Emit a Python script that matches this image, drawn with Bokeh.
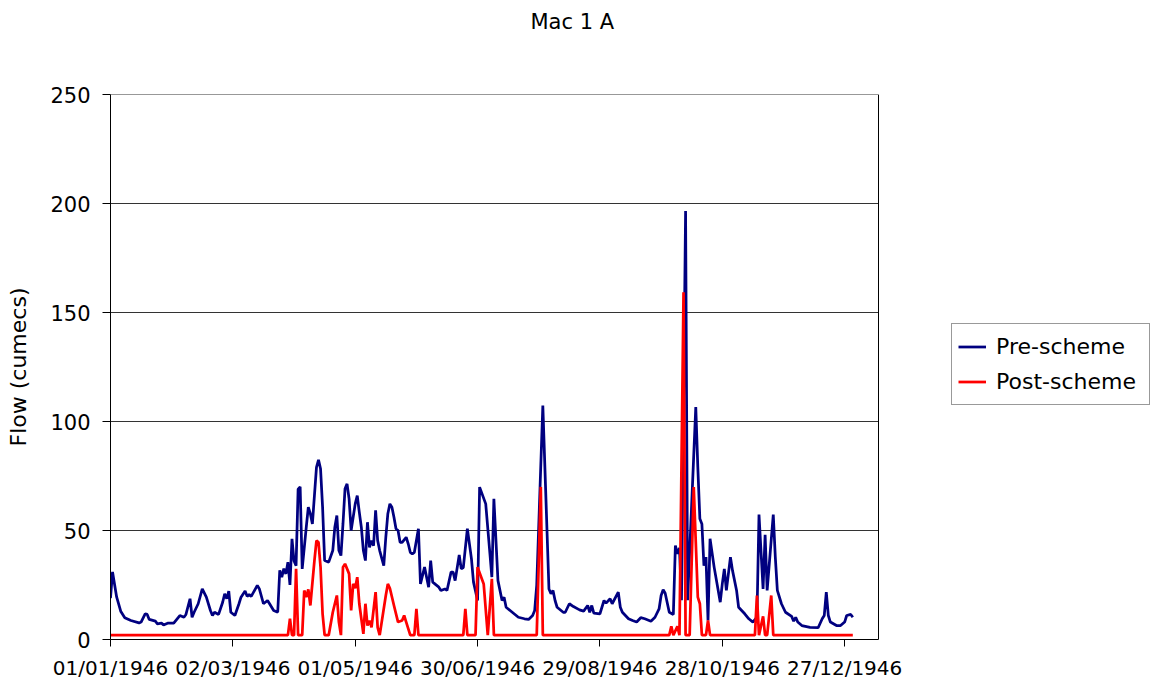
from bokeh.plotting import figure
from bokeh.models import Range1d, FixedTicker, Legend, LegendItem, Title
from bokeh.embed import file_html
from bokeh.resources import INLINE

# ---- data (day of year 1946, 0 = 01/01/1946) ----
pre_days = [0, 1, 3, 5, 7, 10, 14, 15, 17, 18, 19, 22, 23, 25, 26, 28, 31, 32, 34, 36, 37, 39, 40, 41, 43, 45,
            47, 49, 50, 51, 53, 55, 56, 57, 58, 59, 61, 63, 64, 66, 67, 68, 69, 72, 73, 75, 77, 78, 80, 82, 83,
            84, 85, 86, 87, 88, 89, 90, 91, 92, 93, 94, 96, 97, 98, 99, 101, 102, 103, 104, 105, 107, 109, 110,
            111, 112, 113, 114, 115, 116, 117, 118, 120, 121, 122, 123, 124, 125, 126, 127, 128, 129, 130, 131,
            132, 134, 135, 136, 137, 138, 139, 140, 141, 142, 143, 145, 146, 147, 148, 149, 151, 152, 154, 156,
            157, 158, 161, 162, 164, 165, 167, 168, 169, 171, 172, 173, 175, 177, 178, 180, 181, 184, 186, 187,
            188, 190, 192, 193, 194, 197, 200, 203, 205, 207, 208, 209, 212, 215, 216, 217, 218, 219, 222, 223,
            225, 227, 230, 232, 234, 235, 236, 237, 240, 242, 243, 245, 246, 249, 250, 251, 254, 256, 258, 260,
            262, 265, 267, 269, 270, 271, 272, 274, 276, 277, 278, 279, 280, 282, 283, 287, 288, 289, 290, 291,
            292, 293, 294, 296, 298, 299, 300, 301, 302, 304, 305, 307, 308, 311, 313, 315, 317, 318, 320, 321,
            322, 325, 326, 327, 329, 331, 334, 335, 336, 337, 339, 343, 347, 349, 350, 351, 352, 353, 356, 358,
            360, 361, 363, 364]
pre_flow = [19, 31, 19.5, 13, 10, 8.7, 7.6, 8, 11.8, 11.5, 9.2, 8.4, 7.2, 7.5, 6.7, 7.5, 7.5, 8.7, 11, 10.2, 11.5,
            18.7, 10.2, 12.5, 16.4, 23.2, 19.4, 13.3, 11, 12.5, 11.5, 17.1, 21, 18.7, 22.2, 12.5, 11, 16.4, 19.4,
            22.2, 19.8, 20.6, 19.8, 24.8, 23.2, 16.4, 17.9, 16.4, 13.3, 12.5, 31.7, 28.6, 32.5, 30.1, 35.5, 25,
            46.2, 36, 33.9, 69, 70, 32.4, 51.5, 60.7, 57.7, 53, 79, 82.4, 78.3, 60.7, 36.2, 35.5, 40.8, 51.5,
            56.9, 40.8, 38.5, 53, 69.1, 71.4, 64.5, 50, 62.2, 66, 58.4, 51.5, 40.8, 36.2, 53.8, 42.3, 45.4, 43,
            59.2, 45.4, 40.8, 33.9, 46.9, 57.7, 62.2, 60.7, 56.1, 50.8, 50, 44.6, 44.6, 46.9, 43.9, 40, 39.3, 40,
            50.8, 25.5, 33.2, 24, 36.2, 26.3, 24, 22.5, 23.2, 22.5, 30.9, 30.9, 27, 38.8, 32.4, 33, 50.8, 37,
            26.3, 17.9, 69.9, 62.2, 40, 28.6, 64.5, 27, 17.9, 19.4, 14.8, 12.5, 10.2, 9.5, 9.2, 11, 13.3, 24.8,
            107.3, 23.2, 21, 22.5, 17.9, 14.8, 12.5, 12.5, 16.4, 15.1, 13.6, 13, 15.6, 12.5, 15.6, 12.1, 11.8,
            17.9, 16.7, 18.7, 16.4, 21.7, 14.8, 12.5, 9.5, 8.7, 8, 10, 9.5, 8.4, 10.2, 14, 20.2, 22.8, 21.2,
            12.5, 11.5, 43.1, 39.3, 42, 18, 196.5, 18, 106.6, 79, 55.4, 53, 33.9, 37.8, 8.7, 46.2, 33.2, 22.5,
            17.1, 25.5, 32.4, 22.5, 37.8, 31.7, 22.5, 14.8, 11.8, 9.5, 8, 10.2, 57.3, 23.2, 48, 22.5, 57.3, 37.8,
            22.5, 16.4, 12.5, 10.6, 8.4, 10.2, 8, 6.4, 5.6, 5.4, 9.5, 11, 21.7, 11, 8, 6.4, 6.4, 8, 11, 11.5, 10.2]

post_days = [0, 87, 88, 89, 90, 91, 92, 94, 95, 96, 97, 98, 100, 101, 102, 103, 104, 105, 107, 109, 111, 112,
             113, 114, 115, 117, 118, 119, 120, 121, 122, 124, 125, 126, 127, 128, 130, 131, 132, 135, 136, 137,
             139, 141, 143, 144, 145, 147, 149, 150, 151, 173, 174, 175, 179, 180, 183, 185, 187, 188, 209, 211,
             212, 274, 275, 276, 278, 279, 281, 282, 284, 286, 288, 289, 290, 292, 293, 294, 316, 317, 318, 320,
             321, 322, 324, 325, 364]
post_flow = [2, 2, 9.5, 2, 2, 32.4, 2, 2, 22.5, 19.4, 23, 15.6, 36.2, 45.4, 44.6, 33.2, 11.8, 2, 2, 12.5, 20.2, 8,
             2, 33.2, 34.7, 30.1, 13.3, 25.5, 23.5, 28.6, 16.4, 2.6, 16.4, 6.4, 8.7, 5.6, 21.7, 5.6, 2, 20.2, 25.5,
             23.5, 15.6, 8, 8.7, 11, 8, 2, 2, 14, 2, 2, 14, 2, 2, 33.2, 25.5, 2, 27.8, 2, 2, 70, 2, 2, 6, 2, 6, 2,
             159.3, 2, 2, 69.9, 19.4, 16.4, 2, 2, 8.7, 2, 2, 20.2, 2, 10.6, 2, 2, 20.2, 2, 2]

tick_days = [0, 60, 120, 180, 240, 300, 360]
tick_labels = ["01/01/1946", "02/03/1946", "01/05/1946", "30/06/1946",
               "29/08/1946", "28/10/1946", "27/12/1946"]
y_ticks = [0, 50, 100, 150, 200, 250]
chart_title = "Mac 1 A"

# ---- geometry (page pixels) ----
FONT = "DejaVu Sans"
W, H = 1150, 684
PL, PT, PR, PB = 110, 94, 878, 639        # plot-area box of the original chart
AREA_END = 376.6                           # right edge of the plot area, in days
Y_TOP = 250                                # top of the plot area, in cumecs
PX_PER_DAY = (PR - PL) / AREA_END
X_MAX = (W - PL) / PX_PER_DAY               # frame runs on to the canvas edge (room for the legend)

p = figure(width=W, height=H, output_backend="svg", toolbar_location=None,
           x_range=Range1d(0, X_MAX), y_range=Range1d(0, Y_TOP),
           min_border_left=PL, min_border_right=0, min_border_top=PT,
           min_border_bottom=H - PB)
p.background_fill_color = "white"
p.border_fill_color = "white"
p.outline_line_color = None
p.grid.visible = False

# title: a blank spacer next to the frame, then the title text above it
spacer = Title(text=" ", standoff=30, text_font=FONT, text_font_size="21px")
main_title = Title(text=chart_title, align="left", offset=420, standoff=10,
                   text_font=FONT, text_font_size="21px", text_font_style="normal",
                   text_color="black")
p.add_layout(spacer, "above")
p.add_layout(main_title, "above")

# axes
p.xaxis.ticker = FixedTicker(ticks=tick_days)
p.xaxis.major_label_overrides = {d: lab for d, lab in zip(tick_days, tick_labels)}
p.yaxis.ticker = FixedTicker(ticks=y_ticks)
p.xaxis.bounds = (0, AREA_END)
for ax in (p.xaxis[0], p.yaxis[0]):
    ax.axis_line_color = "black"
    ax.major_tick_line_color = "black"
    ax.major_tick_in = 0
    ax.minor_tick_line_color = None
    ax.major_label_text_font = FONT
    ax.major_label_text_color = "black"
p.xaxis.major_tick_out = 7
p.yaxis.major_tick_out = 8
p.xaxis.major_label_text_font_size = "20px"
p.yaxis.major_label_text_font_size = "21px"
p.xaxis.major_label_standoff = 9
p.yaxis.major_label_standoff = 12
p.yaxis.axis_label = "Flow (cumecs)"
p.yaxis.axis_label_text_font = FONT
p.yaxis.axis_label_text_font_size = "22px"
p.yaxis.axis_label_text_font_style = "normal"
p.yaxis.axis_label_text_color = "black"
p.yaxis.axis_label_standoff = 16

# horizontal gridlines limited to the plot area, and the area's right edge
p.segment(x0=[0] * len(y_ticks), y0=y_ticks, x1=[AREA_END] * len(y_ticks), y1=y_ticks,
          line_color="#333333", line_width=1)
p.segment(x0=[AREA_END], y0=[0], x1=[AREA_END], y1=[Y_TOP], line_color="black", line_width=1)

r_pre = p.line(pre_days, pre_flow, line_color="#000080", line_width=2.75)
r_post = p.line(post_days, post_flow, line_color="#FF0000", line_width=2.75)

legend = Legend(items=[LegendItem(label="Pre-scheme", renderers=[r_pre]),
                       LegendItem(label="Post-scheme", renderers=[r_post])],
                location=(951 - PL, PB - 405))
legend.label_text_font = FONT
legend.label_text_font_size = "22px"
legend.label_text_color = "black"
legend.label_width = 147
legend.glyph_width = 28
legend.glyph_height = 33
legend.label_height = 33
legend.label_standoff = 10
legend.spacing = 2
legend.padding = 6
legend.margin = 0
legend.border_line_color = "#333333"
legend.border_line_width = 1
legend.background_fill_color = "white"
legend.background_fill_alpha = 1
p.add_layout(legend, "center")

open("out.html", "w").write(file_html(p, INLINE))
